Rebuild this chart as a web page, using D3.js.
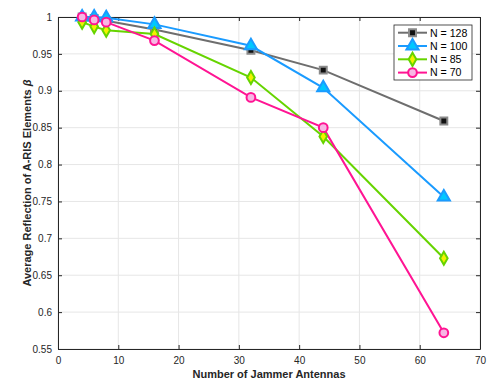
<!DOCTYPE html>
<html><head><meta charset="utf-8">
<script src="https://cdn.jsdelivr.net/npm/d3@7"></script>
<style>
body{margin:0;background:#fff;}
svg{display:block;font-family:"Liberation Sans",Arial,Helvetica,sans-serif;}
</style></head>
<body><svg id="c" width="494" height="392"></svg>
<script>
const xValues = [4, 6, 8, 16, 32, 44, 64];
const n128 = [1.000, 0.998, 0.995, 0.983, 0.955, 0.928, 0.859];
const n100 = [1.000, 1.000, 0.999, 0.990, 0.961, 0.904, 0.756];
const n85  = [0.993, 0.987, 0.982, 0.977, 0.918, 0.838, 0.673];
const n70  = [1.000, 0.996, 0.993, 0.968, 0.891, 0.850, 0.572];
const seriesNames = ["N = 128", "N = 100", "N = 85", "N = 70"];
const xTicks = [0, 10, 20, 30, 40, 50, 60, 70];
const yTicks = [0.55, 0.6, 0.65, 0.7, 0.75, 0.8, 0.85, 0.9, 0.95, 1];
const yTickLabels = ["0.55", "0.6", "0.65", "0.7", "0.75", "0.8", "0.85", "0.9", "0.95", "1"];

const styles = [
  {line:"#6e6e6e", fill:"#111111", stroke:"#8a8a8a", shape:d3.symbolSquare, size:48},
  {line:"#1a9bff", fill:"#00c8ff", stroke:"#1a9bff", shape:d3.symbolTriangle, size:64},
  {line:"#66d400", fill:"#f2f200", stroke:"#66d400", shape:d3.symbolDiamond, size:50},
  {line:"#ff1493", fill:"#f7b6e4", stroke:"#ff1493", shape:d3.symbolCircle, size:60}
];
const allSeries = [n128, n100, n85, n70];

const svg = d3.select("#c");
const L = 58, R = 480, T = 17, B = 349;
const x = d3.scaleLinear().domain([0, 70]).range([L, R]);
const y = d3.scaleLinear().domain([0.55, 1]).range([B, T]);

// grid
const g = svg.append("g");
g.selectAll(".gx").data(xTicks).enter().append("line")
  .attr("x1", d => x(d)).attr("x2", d => x(d)).attr("y1", T).attr("y2", B)
  .attr("stroke", "#e6e6e6").attr("stroke-width", 1);
g.selectAll(".gy").data(yTicks).enter().append("line")
  .attr("x1", L).attr("x2", R).attr("y1", d => y(d)).attr("y2", d => y(d))
  .attr("stroke", "#e6e6e6").attr("stroke-width", 1);

// axes
const xAxis = d3.axisBottom(x).tickValues(xTicks).tickSizeInner(-4).tickSizeOuter(0).tickPadding(8);
const yAxis = d3.axisLeft(y).tickValues(yTicks).tickFormat((d, i) => yTickLabels[i]).tickSizeInner(-4).tickSizeOuter(0).tickPadding(6);
const xa = svg.append("g").attr("transform", `translate(0,${B})`).call(xAxis);
const ya = svg.append("g").attr("transform", `translate(${L},0)`).call(yAxis);
const xt = svg.append("g").attr("transform", `translate(0,${T})`).call(d3.axisTop(x).tickValues(xTicks).tickSizeInner(-4).tickSizeOuter(0).tickFormat(""));
const yr = svg.append("g").attr("transform", `translate(${R},0)`).call(d3.axisRight(y).tickValues(yTicks).tickSizeInner(-4).tickSizeOuter(0).tickFormat(""));
[xa, ya, xt, yr].forEach(a => {
  a.select(".domain").attr("stroke", "#262626").attr("stroke-width", 1);
  a.selectAll(".tick line").attr("stroke", "#262626");
  a.selectAll(".tick text").attr("fill", "#262626").style("font-size", "10px").style("font-family", "'Liberation Sans',Arial,sans-serif");
});

// lines and markers
const lineGen = d3.line().x((d, i) => x(xValues[i])).y(d => y(d));
allSeries.forEach((s, k) => {
  const st = styles[k];
  svg.append("path").datum(s).attr("d", lineGen)
    .attr("fill", "none").attr("stroke", st.line).attr("stroke-width", 2);
});
allSeries.forEach((s, k) => {
  const st = styles[k];
  svg.append("g").selectAll("path").data(s).enter().append("path")
    .attr("d", d3.symbol().type(st.shape).size(st.size))
    .attr("transform", (d, i) => `translate(${x(xValues[i])},${y(d)})`)
    .attr("fill", st.fill).attr("stroke", st.stroke).attr("stroke-width", 2);
});

// legend
const lg = svg.append("g");
lg.append("rect").attr("x", 394).attr("y", 25).attr("width", 78).attr("height", 55)
  .attr("fill", "#fff").attr("stroke", "#262626").attr("stroke-width", 0.8);
seriesNames.forEach((name, k) => {
  const st = styles[k];
  const yy = 32.7 + k * 13.3;
  lg.append("line").attr("x1", 398).attr("x2", 427).attr("y1", yy).attr("y2", yy)
    .attr("stroke", st.line).attr("stroke-width", 2);
  lg.append("path").attr("d", d3.symbol().type(st.shape).size(st.size))
    .attr("transform", `translate(412.5,${yy})`)
    .attr("fill", st.fill).attr("stroke", st.stroke).attr("stroke-width", 2);
  lg.append("text").attr("x", 430).attr("y", yy + 3.8).text(name)
    .attr("fill", "#000").style("font-size", "10.6px");
});

// axis labels
svg.append("text").attr("x", (L + R) / 2).attr("y", 378).attr("text-anchor", "middle")
  .style("font-size", "11px").style("font-weight", "bold").attr("fill", "#262626")
  .text("Number of Jammer Antennas");
const yl = svg.append("text").attr("transform", `translate(31,${(T + B) / 2}) rotate(-90)`)
  .attr("text-anchor", "middle").style("font-size", "11px").style("font-weight", "bold").attr("fill", "#262626");
yl.append("tspan").text("Average Reflection of A-RIS Elements ");
yl.append("tspan").text("β").style("font-style", "italic");
</script></body></html>
